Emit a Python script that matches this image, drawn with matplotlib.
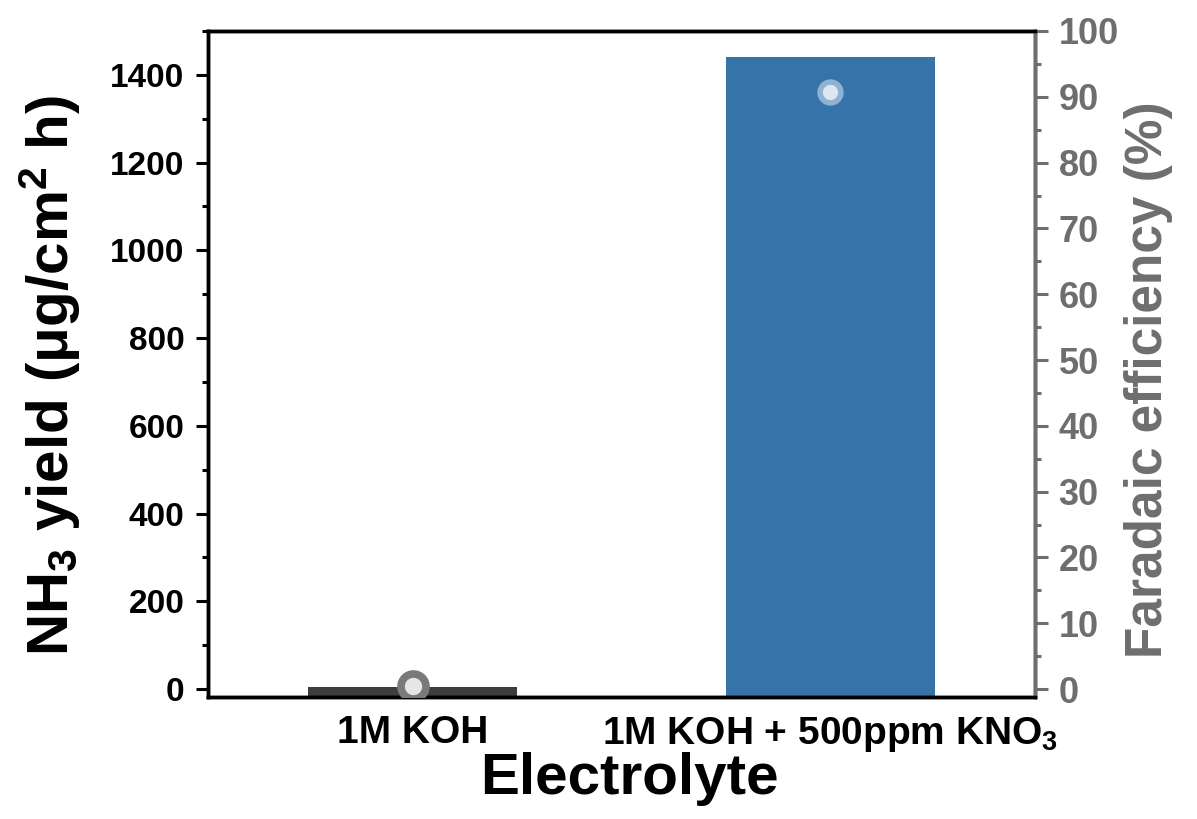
import numpy as np
import matplotlib.pyplot as plt
from matplotlib.ticker import MultipleLocator

plt.rcParams['font.family'] = ['Liberation Sans', 'DejaVu Sans']
plt.rcParams['font.weight'] = 'bold'
plt.rcParams['mathtext.fontset'] = 'custom'
plt.rcParams['mathtext.rm'] = 'Liberation Sans:bold'
plt.rcParams['mathtext.default'] = 'rm'

# data
electrolytes = ['1M KOH', r'1M KOH + 500ppm KNO$_3$']
nh3_yield = [4, 1441]        # ug/cm2 h
faradaic_eff = [0.5, 90.7]   # %

bar_colors = ['#3d3d3d', '#3573a8']
gray = '#6e6e6e'

fig = plt.figure(figsize=(11.97, 8.19), dpi=100)
ax = fig.add_axes([208 / 1197, 1 - 697 / 819, 827 / 1197, 666 / 819])

x = np.arange(1, len(electrolytes) + 1)
ybot = -18
ax.bar(x, np.array(nh3_yield) - ybot, bottom=ybot, width=0.5, color=bar_colors, zorder=2)

ax.set_xlim(0.51, 2.49)
ax.set_ylim(ybot, 1500)
ax.set_xticks(x)
ax.set_xticklabels(electrolytes, fontsize=28, fontweight='bold')
ax.tick_params(axis='x', length=0, pad=13)
ax.yaxis.set_major_locator(MultipleLocator(200))
ax.yaxis.set_minor_locator(MultipleLocator(100))
ax.tick_params(axis='y', which='major', length=9, width=2.2, labelsize=24, pad=8)
ax.tick_params(axis='y', which='minor', length=4.5, width=2.2)
ax.set_xlabel('Electrolyte', fontsize=42, fontweight='bold')
ax.set_ylabel(r'NH$_3$ yield (μg/cm$^2$ h)', fontsize=42, fontweight='bold')
ax.yaxis.label.set(ha='center', va='center', rotation_mode='anchor')
ax.yaxis.set_label_coords(-0.191, 0.483)
ax.xaxis.label.set(ha='center', va='top')
ax.xaxis.set_label_coords(0.51, -0.082)
for s in ax.spines.values():
    s.set_linewidth(2.5)

# Faradaic efficiency on the right axis
ax2 = ax.twinx()
ax2.set_ylim(-1.2, 100)
ax2.plot(x[0], faradaic_eff[0], 'o', ms=18, mfc='#e6e6e6', mec='#7a7a7a', mew=5.5, zorder=3)
ax2.plot(x[1], faradaic_eff[1], 'o', ms=15, mfc='#dce7f2', mec='#8fb2d2', mew=4, zorder=3)
ax2.yaxis.set_major_locator(MultipleLocator(10))
ax2.yaxis.set_minor_locator(MultipleLocator(5))
ax2.tick_params(axis='y', which='major', length=9, width=2.2, labelsize=26,
                colors=gray, pad=8)
ax2.tick_params(axis='y', which='minor', length=4.5, width=2.2, colors=gray)
for lab in ax2.get_yticklabels():
    lab.set_fontweight('bold')
ax2.set_ylabel('Faradaic efficiency (%)', fontsize=37, fontweight='bold', color=gray)
ax2.yaxis.label.set(ha='center', va='center', rotation_mode='anchor')
ax2.yaxis.set_label_coords(1.137, 0.476)
for s in ax2.spines.values():
    s.set_linewidth(2.5)
ax2.spines['right'].set_color(gray)

for lab in ax.get_yticklabels():
    lab.set_fontweight('bold')

fig.savefig('out.png', dpi=100)
